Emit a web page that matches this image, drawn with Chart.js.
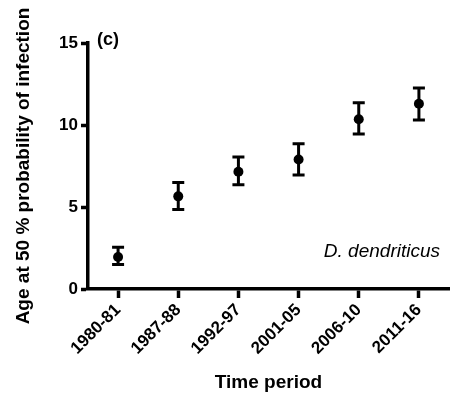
<!DOCTYPE html>
<html>
<head>
<meta charset="utf-8"/>
<style>
  html,body{margin:0;padding:0;background:#fff;}
  #wrap{width:454px;height:398px;position:relative;}
</style>
</head>
<body>
<div id="wrap"><canvas id="c" width="454" height="398"></canvas></div>
<script src="https://cdn.jsdelivr.net/npm/chart.js@4.4.0/dist/chart.umd.min.js"></script>
<script>
const FONT = "'Liberation Sans', Arial, Helvetica, sans-serif";

// data
const periods  = ["1980-81", "1987-88", "1992-97", "2001-05", "2006-10", "2011-16"];
const ageMid   = [1.95, 5.65, 7.15, 7.9, 10.35, 11.3];
const ageLow   = [1.5, 4.85, 6.35, 6.95, 9.45, 10.3];
const ageHigh  = [2.55, 6.5, 8.05, 8.85, 11.35, 12.25];
const yTicks   = [0, 5, 10, 15];

// error bars + panel texts
const errorBars = {
  id: "errorBars",
  afterDatasetsDraw(chart) {
    const ctx = chart.ctx;
    const x = chart.scales.x, y = chart.scales.y;
    ctx.save();
    ctx.strokeStyle = "#000";
    ctx.lineWidth = 3;
    ctx.lineCap = "butt";
    periods.forEach((p, i) => {
      const px = x.getPixelForValue(i);
      const top = y.getPixelForValue(ageHigh[i]);
      const bot = y.getPixelForValue(ageLow[i]);
      ctx.beginPath();
      ctx.moveTo(px, top); ctx.lineTo(px, bot);
      ctx.moveTo(px - 6, top); ctx.lineTo(px + 6, top);
      ctx.moveTo(px - 6, bot); ctx.lineTo(px + 6, bot);
      ctx.stroke();
    });
    const a = chart.chartArea;
    ctx.fillStyle = "#000";
    ctx.textBaseline = "middle";
    ctx.font = "bold 18px " + FONT;
    ctx.textAlign = "left";
    ctx.fillText("(c)", a.left + 9, a.top - 3);
    ctx.font = "italic 19px " + FONT;
    ctx.textAlign = "right";
    ctx.fillText("D. dendriticus", a.right - 9, y.getPixelForValue(2.3));
    ctx.restore();
  }
};

new Chart(document.getElementById("c"), {
  type: "line",
  data: {
    labels: periods,
    datasets: [{
      data: ageMid,
      showLine: false,
      pointRadius: 5,
      pointBackgroundColor: "#000",
      pointBorderColor: "#000",
      pointBorderWidth: 0
    }]
  },
  options: {
    responsive: false,
    animation: false,
    layout: { padding: { top: 43, right: 0, left: 0, bottom: 0 } },
    plugins: { legend: { display: false }, tooltip: { enabled: false } },
    scales: {
      x: {
        offset: true,
        border: { display: true, color: "#000", width: 3.5 },
        grid: { drawOnChartArea: false, drawTicks: true, tickLength: 9, tickWidth: 3.5, tickColor: "#000", offset: false },
        ticks: { color: "#000", font: { family: FONT, size: 17, weight: "bold" }, maxRotation: 45, minRotation: 45, padding: 2 },
        title: { display: true, text: "Time period", color: "#000",
                 font: { family: FONT, size: 19, weight: "bold" }, padding: { top: 0, bottom: 4 } },
        afterFit(s) { s.height = 109; }
      },
      y: {
        min: 0, max: 15,
        border: { display: true, color: "#000", width: 3.5 },
        grid: { drawOnChartArea: false, drawTicks: true, tickLength: 7, tickWidth: 3.5, tickColor: "#000" },
        afterBuildTicks(s) { s.ticks = yTicks.map(v => ({ value: v })); },
        ticks: { color: "#000", font: { family: FONT, size: 17, weight: "bold" }, padding: 3 },
        title: { display: true, text: "Age at 50 % probability of infection", color: "#000",
                 font: { family: FONT, size: 19, weight: "bold" }, padding: { top: 12, bottom: 0 } },
        afterFit(s) { s.width = 88; }
      }
    }
  },
  plugins: [errorBars]
});
</script>
</body>
</html>
